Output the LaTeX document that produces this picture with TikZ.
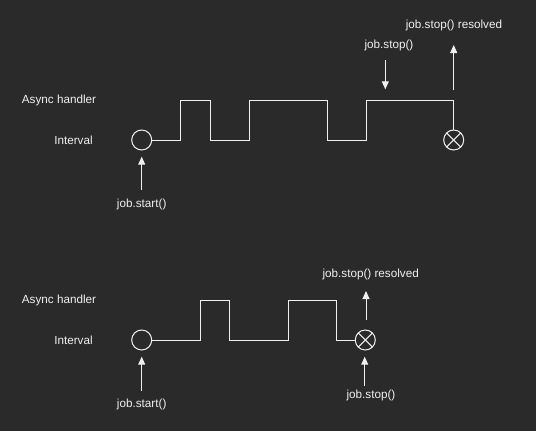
\documentclass[tikz,border=0pt]{standalone}
\usepackage{fontspec}
\setmainfont{Liberation Sans}
\usetikzlibrary{arrows.meta}
\definecolor{bg}{HTML}{2A2A2A}
\definecolor{fg}{HTML}{F0F0F0}
\begin{document}
\begin{tikzpicture}[x=1pt,y=-1pt,
  lbl/.style={text=fg,font=\fontsize{11.7}{13}\selectfont,inner sep=0pt},
  wave/.style={draw=fg,line width=1pt},
  ring/.style={circle,draw=fg,line width=1pt,minimum size=20pt,inner sep=0pt},
  xring/.style={ring,path picture={
    \draw[fg,line width=1pt] (path picture bounding box.south west)--(path picture bounding box.north east)
      (path picture bounding box.north west)--(path picture bounding box.south east);}},
  arr/.style={draw=fg,line width=1pt,-{Triangle[length=8pt,width=7pt]}}]
\fill[bg] (0,0) rectangle (536,431);
\useasboundingbox (0,0) rectangle (536,431);
% ---------- top ----------
\node[lbl] (ah1) at (59,100) {Async handler};
\node[lbl] (iv1) at (73.5,140) {Interval};
\node[ring] (s1) at (141.7,140) {};
\node[xring] (e1) at (453.7,140) {};
\draw[wave] (s1.east) -- (180.7,140) -- (180.7,100) -- (210,100) -- (210,140) -- (249.3,140)
  -- (249.3,100) -- (327,100) -- (327,140) -- (366.3,140) -- (366.3,100) -- (453.7,100) -- (e1.north);
\node[lbl] (st1) at (141.7,204) {job.start()};
\coordinate (st1a) at (141.7,190);
\coordinate (st1b) at (141.7,156.7);
\draw[arr] (st1a) -- (st1b);
\node[lbl] (sp1) at (389,45) {job.stop()};
\coordinate (sp1a) at (385.3,60);
\coordinate (sp1b) at (385.3,89.3);
\draw[arr] (sp1a) -- (sp1b);
\node[lbl] (rs1) at (454,25) {job.stop() resolved};
\coordinate (rs1a) at (453.7,90);
\coordinate (rs1b) at (453.7,45);
\draw[arr] (rs1a) -- (rs1b);
% ---------- bottom ----------
\node[lbl] (ah2) at (59,300) {Async handler};
\node[lbl] (iv2) at (73.5,340) {Interval};
\node[ring] (s2) at (141.7,340) {};
\node[xring] (e2) at (365.3,340) {};
\draw[wave] (s2.east) -- (200.3,340) -- (200.3,300.3) -- (229.3,300.3) -- (229.3,340) -- (288,340)
  -- (288,300.3) -- (336.7,300.3) -- (336.7,340) -- (e2.west);
\node[lbl] (st2) at (141.7,404.3) {job.start()};
\coordinate (st2a) at (141.7,390.7);
\coordinate (st2b) at (141.7,356.7);
\draw[arr] (st2a) -- (st2b);
\node[lbl] (rs2) at (370.7,274.3) {job.stop() resolved};
\coordinate (rs2a) at (366,320);
\coordinate (rs2b) at (366,291);
\draw[arr] (rs2a) -- (rs2b);
\node[lbl] (sp2) at (371,395) {job.stop()};
\coordinate (sp2a) at (364.7,385.7);
\coordinate (sp2b) at (364.7,356.7);
\draw[arr] (sp2a) -- (sp2b);
\end{tikzpicture}
\end{document}
